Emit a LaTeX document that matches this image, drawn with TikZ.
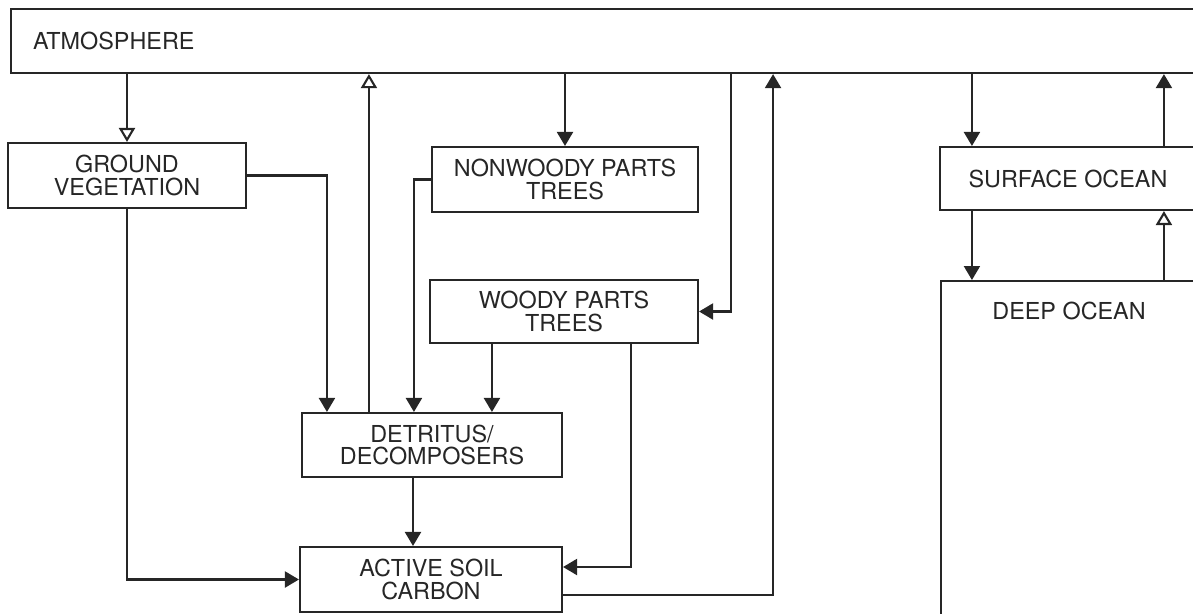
\documentclass[tikz,border=0pt]{standalone}
\usepackage{fontspec}
\setmainfont{TeX Gyre Heros}
\usepackage{tikz}
\usetikzlibrary{calc,positioning,arrows,arrows.meta,shapes}

\begin{document}
\begin{tikzpicture}
      [font=\fontsize{13.3}{12.8}\selectfont, line width=1.2pt, draw=black!85, text=black!85,
      % STYLES
      % The pool style is used to draw the carbon reservoirs
      pool/.style={rectangle, draw=black!85, line width=1.2pt, inner sep=0pt, align=center},
      % The flow style is used for the fluxes between the pools
      flow/.style={draw=black!85, line width=1.2pt, -{Triangle[length=0.28cm,width=0.32cm]}},
      % The backflow style has an open arrow head
      backflow/.style={draw=black!85, line width=1.2pt, -{Triangle[open,length=0.28cm,width=0.32cm]}}]

      \clip (0,0) rectangle (23.86,-12.26);

      % Draw pools
      \node [pool, anchor=north west, text width=23.4cm, inner xsep=0.44cm, minimum height=1.28cm, align=left] (atmos) at (0.2,-0.16) {ATMOSPHERE};
      \node [pool, minimum width=4.76cm, minimum height=1.3cm] (groundveg) at (2.54,-3.51) {GROUND\\VEGETATION};
      \node [pool, minimum width=5.32cm, minimum height=1.3cm] (nonwoody) at (11.3,-3.59) {NONWOODY PARTS\\TREES};
      \node [pool, minimum width=5.36cm, minimum height=1.26cm] (woody) at (11.28,-6.23) {WOODY PARTS\\TREES};
      \node [pool, minimum width=5.2cm, minimum height=1.28cm] (detritus) at (8.64,-8.9) {DETRITUS/\\DECOMPOSERS};
      \node [pool, minimum width=5.24cm, minimum height=1.3cm] (activesoil) at (8.62,-11.59) {ACTIVE SOIL\\CARBON};
      \node [pool, minimum width=5.12cm, minimum height=1.26cm] (surface) at (21.36,-3.57) {SURFACE OCEAN};
      \node [pool, anchor=north west, minimum width=5.12cm, minimum height=8.4cm,
             label={[anchor=north, yshift=-0.3cm]north:DEEP OCEAN}] (deep) at (18.8,-5.6) {};

      %%%%%%%%%%%%%%%
      % Branch points
      \coordinate (w0) at ($(woody.east)+(0.64,0)$);
      \coordinate (w1) at ($(woody.south west)+(1.26,0)$);
      \coordinate (w2) at ($(woody.south west)+(4.04,0)$);
      \coordinate (d0) at ($(detritus.north west)+(0.52,0)$);
      \coordinate (d1) at ($(detritus.north west)+(1.36,0)$);
      \coordinate (d2) at ($(detritus.north west)+(2.26,0)$);
      \coordinate (d3) at ($(detritus.south)+(-0.38,0)$);
      \coordinate (a1) at ($(activesoil.east)+(0,-0.31)$);
      \coordinate (a2) at ($(activesoil.east)+(4.2,-0.31)$);
      \coordinate (s1) at ($(surface.north west)+(0.66,0)$);
      \coordinate (s2) at ($(surface.north west)+(4.5,0)$);

      %%%%%%%%%%%%%%%%

      % Draw the links between pools
      \draw [backflow] (atmos.south -| groundveg.north) -- (groundveg.north);
      \draw [flow] (groundveg.east) -| (d0);
      \draw [backflow] (d1) -- (d1 |- atmos.south);
      \draw [flow] (nonwoody.west) -| (d2);
      \draw [flow] (atmos.south -| nonwoody.north) -- (nonwoody.north);
      \draw [flow] (w0 |- atmos.south) |- (woody.east);
      \draw [flow] (w1) -- (w1 |- detritus.north);
      \draw [flow] (w2) |- ($(activesoil.east)+(0,0.25)$);
      \draw [flow] (d3) -- (d3 |- activesoil.north);
      \draw [flow] (groundveg.south) |- (activesoil.west);
      \draw [flow] (a1) -- (a2) -- (a2 |- atmos.south);

      % Ocean exchange
      \draw [flow] (s1 |- atmos.south) -- (s1);
      \draw [flow] (s2) -- (s2 |- atmos.south);
      \draw [flow] (s1 |- surface.south) -- (s1 |- deep.north);
      \draw [backflow] (s2 |- deep.north) -- (s2 |- surface.south);

    \end{tikzpicture}
\end{document}
